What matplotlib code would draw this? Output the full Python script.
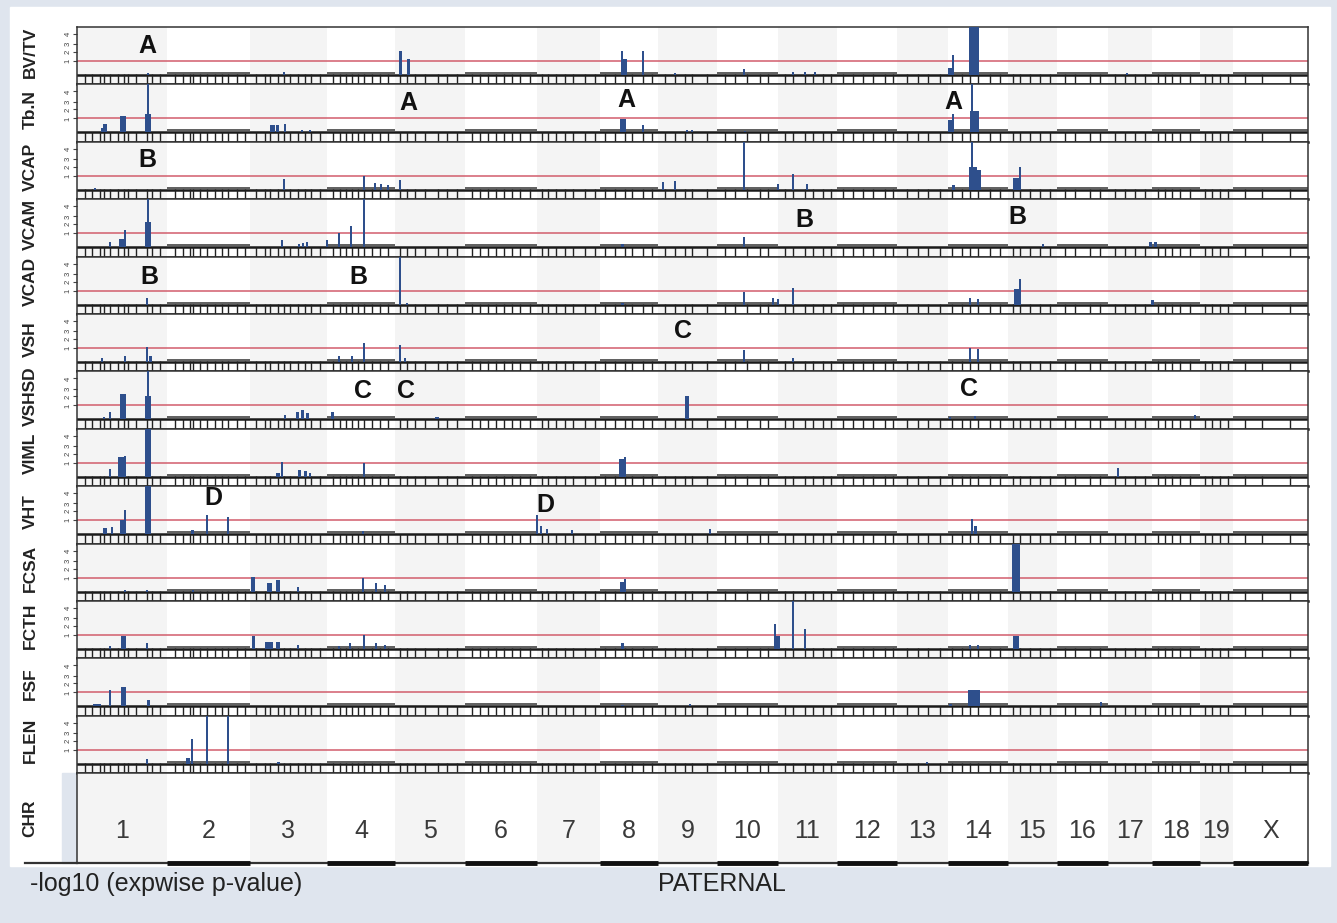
import matplotlib
matplotlib.use("Agg")
import matplotlib.pyplot as plt
from matplotlib.patches import Rectangle
from matplotlib.lines import Line2D

plt.rcParams['font.family'] = ['Liberation Sans', 'DejaVu Sans']

# chromosome names and boundaries (genome position, cM-like units)
chroms = ['1', '2', '3', '4', '5', '6', '7', '8', '9', '10', '11', '12', '13',
          '14', '15', '16', '17', '18', '19', 'X']
chrom_edges = [0, 90, 173, 250, 318, 388, 460, 523, 581, 640, 701, 760, 820,
               871, 931, 980, 1031, 1075, 1123, 1156, 1231]

# marker positions along the genome
markers = [8, 15, 23, 27, 33, 41, 47, 51, 59, 70, 75, 83,
           98, 106, 113, 116, 123, 130, 138, 145, 151, 160, 168,
           179, 188, 193, 201, 207, 213, 221, 228, 234, 243,
           256, 263, 269, 275, 281, 287, 295, 303, 311,
           323, 330, 338, 348, 361, 370, 380,
           395, 403, 411, 419, 427, 435, 443, 453,
           465, 471, 479, 488, 496, 508, 518,
           528, 538, 548, 555, 566, 575,
           588, 598, 608, 615, 630,
           648, 658, 670, 683, 691,
           708, 716, 728, 736, 746, 754,
           766, 776, 786, 796, 808, 816,
           830, 841, 851, 863,
           875, 885, 893, 901, 913, 923,
           936, 943, 953, 963, 973,
           988, 998, 1013, 1023,
           1038, 1048, 1058, 1068,
           1081, 1088, 1095, 1103, 1113,
           1128, 1135, 1143, 1151,
           1168, 1185, 1213]

traits = ['BV/TV', 'Tb.N', 'VCAP', 'VCAM', 'VCAD', 'VSH', 'VSHSD', 'VIML',
          'VHT', 'FCSA', 'FCTH', 'FSF', 'FLEN']

# -log10(expwise p) peaks per trait: (position, value, bar width)
bvtv = [(71, 0.15, 2), (207, 0.2, 1.5), (323, 1.7, 3), (331, 1.15, 3),
        (545, 1.7, 2), (547, 1.15, 5), (566, 1.7, 2), (598, 0.15, 1.5),
        (667, 0.4, 1.5), (716, 0.2, 1.5), (728, 0.2, 1.5), (738, 0.2, 1.5),
        (873, 0.5, 5), (876, 1.4, 2), (897, 4, 10), (1050, 0.15, 1.5)]
tbn = [(25, 0.35, 2), (28, 0.6, 4), (46, 1.15, 6), (71, 4, 2), (71, 1.3, 6),
       (195, 0.5, 5), (200, 0.55, 3), (208, 0.6, 2), (225, 0.2, 1.5),
       (233, 0.2, 1.5), (546, 0.95, 6), (566, 0.5, 2), (610, 0.2, 1.5),
       (615, 0.15, 1.5), (668, 0.1, 1.5), (873, 0.9, 5), (876, 1.35, 2),
       (895, 4, 2), (897, 1.5, 9)]
vcap = [(18, 0.15, 1.5), (207, 0.8, 2), (287, 1.0, 2), (298, 0.5, 2),
        (304, 0.4, 2), (311, 0.35, 2), (323, 0.7, 2), (586, 0.55, 2),
        (598, 0.65, 2), (667, 4, 2.5), (701, 0.45, 2), (716, 1.1, 2),
        (730, 0.45, 2), (876, 0.35, 3), (895, 4, 2), (896, 1.65, 8),
        (901, 1.4, 5), (939, 0.85, 6), (943, 1.65, 2)]
vcam = [(33, 0.35, 2), (44, 0.6, 5), (48, 1.2, 2), (71, 4, 2), (71, 1.8, 6),
        (205, 0.5, 2), (222, 0.2, 1.5), (226, 0.3, 2), (230, 0.35, 2),
        (250, 0.5, 2), (262, 1.0, 2), (274, 1.5, 2), (287, 4, 2.5),
        (545, 0.2, 3), (667, 0.7, 2), (966, 0.2, 1.5), (1073, 0.4, 3),
        (1078, 0.35, 3)]
vcad = [(70, 0.5, 2), (323, 4, 2.5), (330, 0.1, 1.5), (545, 0.15, 3),
        (667, 0.9, 2), (696, 0.5, 2), (701, 0.4, 2), (716, 1.2, 2),
        (893, 0.5, 2), (901, 0.4, 2), (940, 1.1, 6), (943, 1.8, 2),
        (1075, 0.3, 3)]
vsh = [(25, 0.3, 2), (48, 0.45, 2), (70, 1.1, 2), (73, 0.4, 3), (262, 0.4, 2),
       (275, 0.45, 2), (287, 1.35, 2), (323, 1.2, 2), (328, 0.3, 2),
       (667, 0.85, 2), (716, 0.3, 2), (893, 1.0, 2), (901, 0.9, 2)]
vshsd = [(27, 0.2, 2), (33, 0.55, 2), (46, 1.8, 6), (71, 4, 2.5), (71, 1.7, 6),
         (208, 0.3, 2), (220, 0.5, 3), (225, 0.65, 3), (230, 0.45, 3),
         (255, 0.55, 3), (360, 0.2, 4), (610, 1.65, 4), (873, 0.2, 2),
         (898, 0.25, 2), (1118, 0.3, 2)]
viml = [(33, 0.55, 2), (44, 1.4, 6), (48, 1.5, 2), (71, 4, 6), (201, 0.3, 4),
        (205, 1.05, 2), (222, 0.45, 3), (228, 0.4, 3), (233, 0.3, 2),
        (287, 0.95, 2), (545, 1.3, 6), (548, 1.4, 2), (1041, 0.6, 2)]
vht = [(28, 0.45, 4), (35, 0.55, 2), (45, 1.0, 5), (48, 1.7, 2), (71, 4, 6),
       (115, 0.3, 3), (130, 1.35, 2), (151, 1.2, 2), (286, 0.2, 2),
       (460, 1.35, 2), (464, 0.6, 2), (470, 0.4, 2), (495, 0.3, 2),
       (633, 0.4, 2), (895, 1.1, 2), (898, 0.6, 3)]
fcsa = [(48, 0.1, 2), (70, 0.1, 2), (116, 0.1, 2), (176, 1.05, 4),
        (192, 0.6, 5), (201, 0.8, 4), (221, 0.35, 2), (286, 1.0, 2),
        (299, 0.65, 2), (308, 0.5, 2), (545, 0.7, 5), (548, 0.9, 2),
        (939, 4, 8)]
fcth = [(33, 0.2, 2), (46, 0.95, 5), (70, 0.4, 2), (176, 0.95, 3),
        (192, 0.5, 8), (201, 0.5, 4), (221, 0.3, 2), (262, 0.2, 2),
        (273, 0.45, 2), (287, 1.0, 2), (299, 0.4, 2), (308, 0.3, 2),
        (545, 0.45, 3), (698, 1.8, 2), (700, 0.9, 6), (716, 4, 2),
        (728, 1.45, 2), (893, 0.3, 2), (901, 0.3, 2), (939, 0.95, 6)]
fsf = [(20, 0.2, 8), (33, 1.2, 2), (46, 1.35, 5), (71, 0.45, 3),
       (545, 0.1, 3), (613, 0.2, 2), (873, 0.2, 3), (897, 1.15, 12),
       (1024, 0.3, 2)]
flen = [(70, 0.35, 2), (111, 0.4, 4), (115, 1.8, 2), (130, 4, 2),
        (151, 4, 2), (201, 0.1, 3), (850, 0.1, 2)]

peaks = [bvtv, tbn, vcap, vcam, vcad, vsh, vshsd, viml, vht, fcsa, fcth, fsf, flen]

# QTL cluster labels: (trait index, position, height, letter)
cluster_labels = [(0, 70, 2.07, 'A'), (1, 331, 2.07, 'A'), (1, 549, 2.3, 'A'),
                  (1, 876, 2.15, 'A'), (2, 70, 2.14, 'B'), (3, 727, 1.93, 'B'),
                  (3, 940, 2.14, 'B'), (4, 72, 2.0, 'B'), (4, 281, 2.0, 'B'),
                  (5, 606, 2.2, 'C'), (6, 286, 2.0, 'C'), (6, 329, 2.0, 'C'),
                  (6, 892, 2.14, 'C'), (8, 136, 2.57, 'D'), (8, 468, 2.07, 'D')]

threshold = 1.0
ytick_pos = [1.0, 1.64, 2.2, 2.93]
ytick_lab = ['1', '2', '3', '4']

BAR = '#2e4f8c'
RED = '#d25d6c'
SHADE = '#f4f4f4'
BG = '#dfe5ee'

W, H = 1337, 923
fig = plt.figure(figsize=(W / 100, H / 100), dpi=100, facecolor=BG)
fig.patches.append(Rectangle((10 / W, 1 - 866 / H), 1320 / W, 859 / H,
                             transform=fig.transFigure, color='white', zorder=-5))

left, right = 77, 1308
top0, slot = 27, 57.4
unit = 14.0
base = 48.0

for i, name in enumerate(traits):
    top = top0 + slot * i
    ax = fig.add_axes([left / W, 1 - (top + slot) / H, (right - left) / W, slot / H])
    ax.set_xlim(chrom_edges[0], chrom_edges[-1])
    ylo = -(slot - base) / unit
    ax.set_ylim(ylo, base / unit)
    ax.set_facecolor('white')
    for k in range(len(chroms)):
        if k % 2 == 0:
            ax.axvspan(chrom_edges[k], chrom_edges[k + 1], color=SHADE, lw=0, zorder=0)
        else:
            ax.hlines(0.15, chrom_edges[k], chrom_edges[k + 1],
                      color='#444', lw=1.2, zorder=2)
    ax.axhline(threshold, color=RED, lw=1.1, zorder=1)
    ax.axhline(0, color='#1a1a1a', lw=1.8, zorder=2)
    ax.vlines(markers, ylo, 0.05, color='#222', lw=1.0, zorder=2)
    pos = [p[0] for p in peaks[i]]
    val = [p[1] for p in peaks[i]]
    wid = [p[2] for p in peaks[i]]
    ax.bar(pos, val, width=wid, color=BAR, linewidth=0, zorder=3)
    for ti, px, py, lab in cluster_labels:
        if ti == i:
            ax.text(px, py, lab, fontsize=18, weight='bold', ha='center',
                    va='center', color='#111', zorder=4)
    ax.set_xticks([])
    ax.set_yticks(ytick_pos)
    ax.set_yticklabels(ytick_lab, rotation=90, va='center')
    ax.tick_params(axis='y', length=3, width=0.8, labelsize=5.5, pad=1,
                   colors='#444')
    for s in ['top', 'left', 'right']:
        ax.spines[s].set_color('#333')
        ax.spines[s].set_linewidth(1.1)
    ax.spines['bottom'].set_color('#1a1a1a')
    ax.spines['bottom'].set_linewidth(1.8)
    fig.text(30 / W, 1 - (top + 25) / H, name, rotation=90, ha='center',
             va='center', fontsize=12.5, weight='bold', color='#222')

# chromosome row
chr_top, chr_bot = 773, 863
cax = fig.add_axes([left / W, 1 - chr_bot / H, (right - left) / W,
                    (chr_bot - chr_top) / H])
cax.set_xlim(chrom_edges[0], chrom_edges[-1])
cax.set_ylim(0, 1)
for k, c in enumerate(chroms):
    if k % 2 == 0:
        cax.axvspan(chrom_edges[k], chrom_edges[k + 1], color=SHADE, lw=0, zorder=0)
    else:
        cax.hlines(0.0, chrom_edges[k], chrom_edges[k + 1], color='#111', lw=3.5,
                   zorder=3, clip_on=False)
    cax.text((chrom_edges[k] + chrom_edges[k + 1]) / 2, 0.35, c, ha='center',
             va='center', fontsize=18, color='#3a3a3a')
cax.set_xticks([])
cax.set_yticks([])
for s in cax.spines.values():
    s.set_color('#333')
    s.set_linewidth(1.1)
cax.spines['bottom'].set_linewidth(1.6)

fig.patches.append(Rectangle((62 / W, 1 - chr_bot / H), 15 / W, (chr_bot - chr_top) / H,
                             transform=fig.transFigure, color=BG, zorder=-4))
fig.lines.append(Line2D([25 / W, left / W], [1 - chr_bot / H, 1 - chr_bot / H],
                        transform=fig.transFigure, color='#333', lw=1.6))
fig.text(30 / W, 1 - (chr_top + 45) / H, 'CHR', rotation=90, ha='center',
         va='center', fontsize=12.5, weight='bold', color='#222')

fig.text(30 / W, 1 - 884 / H, '-log10 (expwise p-value)', ha='left', va='center',
         fontsize=18, color='#222')
fig.text(722 / W, 1 - 884 / H, 'PATERNAL', ha='center', va='center',
         fontsize=18, color='#222')

fig.savefig('out.png', dpi=100, facecolor=BG)
